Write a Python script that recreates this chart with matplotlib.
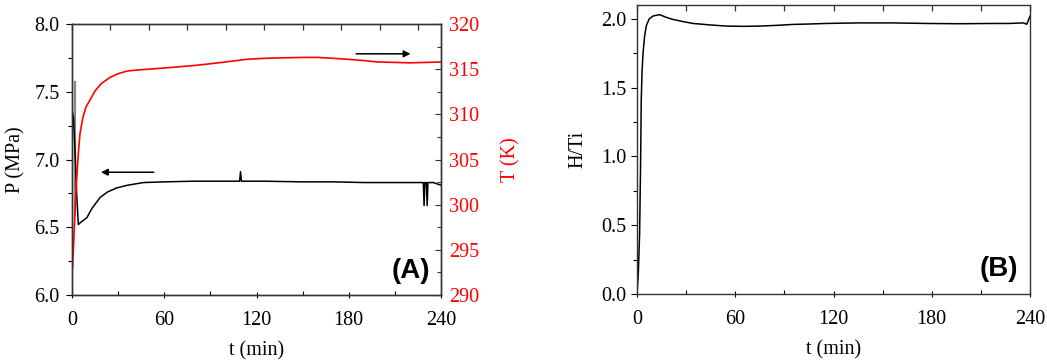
import matplotlib.pyplot as plt
from matplotlib.ticker import MultipleLocator

# panel A: temperature (right axis, K)
t_temp = [0.3, 1.0, 2.0, 3.0, 4.0, 5.2, 7.0, 9.0, 11.7, 15, 19, 24.8, 30, 36, 42.2,
          50, 57.4, 65, 79, 90, 100, 114, 125, 135, 150.8, 160, 170, 179, 190, 198.7,
          210, 220, 230, 240]
temp = [292.9, 295.5, 299.5, 302.8, 305.5, 307.9, 309.6, 310.8, 311.6, 312.6, 313.4, 314.1,
        314.5, 314.8, 314.9, 315.0, 315.1, 315.2, 315.4, 315.6, 315.8, 316.1, 316.2, 316.25,
        316.3, 316.3, 316.2, 316.1, 315.95, 315.8, 315.75, 315.7, 315.75, 315.8]

# panel A: pressure (left axis, MPa)
t_pres = [0.3, 1.0, 2.0, 3.0, 4.1, 6.0, 9.6, 13, 18.3, 23, 29, 36, 46.5, 60, 79, 95,
          109.0, 109.6, 110.2, 125, 150, 170, 190, 210, 228.5, 229.0, 229.5, 230.5, 231.0,
          231.5, 235, 240]
pres = [7.35, 7.30, 7.05, 6.75, 6.52, 6.54, 6.57, 6.64, 6.72, 6.76, 6.79, 6.81, 6.83, 6.835,
        6.84, 6.84, 6.84, 6.91, 6.84, 6.84, 6.835, 6.835, 6.83, 6.83, 6.83, 6.66, 6.83, 6.83,
        6.66, 6.83, 6.83, 6.81]

# panel B: H/Ti
t_h = [0, 0.8, 1.6, 2.2, 2.6, 3.1, 3.7, 4.6, 5.7, 7.5, 9.8, 13.8, 18, 22, 28, 34.2, 45,
       54.6, 65, 75, 85, 95.3, 105, 115.7, 125, 136, 146, 156.4, 166, 176.8, 187, 197.2,
       207, 217.6, 227, 236, 238, 240]
hti = [0.0, 0.15, 0.44, 0.95, 1.41, 1.62, 1.75, 1.87, 1.95, 2.0, 2.02, 2.03, 2.01, 1.995,
       1.98, 1.966, 1.955, 1.947, 1.945, 1.947, 1.952, 1.959, 1.962, 1.966, 1.968, 1.97,
       1.97, 1.97, 1.968, 1.966, 1.965, 1.964, 1.965, 1.966, 1.966, 1.97, 1.96, 2.02]

plt.rcParams['font.family'] = ['Liberation Serif', 'DejaVu Serif']
plt.rcParams['font.size'] = 14.5

fig = plt.figure(figsize=(10.47, 3.61), dpi=100)
posA = [0.0688, 0.1828, 0.3524, 0.7507]
posB = [0.6084, 0.1856, 0.3754, 0.8005]
axA = fig.add_axes(posA)
axT = axA.twinx()
axB = fig.add_axes(posB)


def style_bottom_left(ax, ypad):
    for s in ax.spines.values():
        s.set_linewidth(1.0)
        s.set_color('#333333')
    ax.xaxis.set_major_locator(MultipleLocator(60))
    ax.xaxis.set_minor_locator(MultipleLocator(30))
    ax.tick_params(axis='x', which='major', direction='inout', length=5, width=0.8,
                   top=False, pad=9)
    ax.tick_params(axis='x', which='minor', direction='in', length=3, width=0.8, top=False)
    ax.tick_params(axis='y', which='both', direction='out', width=0.8, right=False)
    ax.tick_params(axis='y', which='major', length=4, pad=ypad)
    ax.tick_params(axis='y', which='minor', length=3)
    ax.set_xlim(0, 240)
    ax.set_xlabel('t (min)', labelpad=8)


def top_ticks(pos, step):
    ax = fig.add_axes(pos, frameon=False)
    ax.set_xlim(0, 240)
    ax.xaxis.set_major_locator(MultipleLocator(step))
    ax.xaxis.tick_top()
    ax.tick_params(axis='x', direction='in', length=4, width=0.9, labeltop=False,
                   color='#333333')
    ax.set_yticks([])
    ax.patch.set_visible(False)
    return ax


# panel A
axA.plot(t_pres, pres, color='black', lw=1.1, zorder=3)
axA.plot([2, 2], [7.57, 6.6], color='#888888', lw=1.6)
style_bottom_left(axA, 5)
axA.set_ylim(6.0, 8.0)
axA.yaxis.set_major_locator(MultipleLocator(0.5))
axA.yaxis.set_minor_locator(MultipleLocator(0.25))
axA.set_ylabel('P (MPa)', labelpad=6)
axA.annotate('', xy=(17, 6.906), xytext=(55, 6.906),
             arrowprops=dict(arrowstyle='-|>', color='black', lw=1.1, mutation_scale=10))
axA.text(0.97, 0.04, '(A)', transform=axA.transAxes, ha='right', va='bottom',
         fontsize=20, fontweight='bold', family='Liberation Sans')

axT.plot(t_temp, temp, color='red', lw=1.2)
axT.set_ylim(290, 320)
axT.yaxis.set_major_locator(MultipleLocator(5))
axT.yaxis.set_minor_locator(MultipleLocator(2.5))
axT.tick_params(axis='y', which='both', direction='in', width=0.8,
                labelcolor='red', color='#333333')
axT.tick_params(axis='y', which='major', length=4, pad=6)
axT.tick_params(axis='y', which='minor', length=3)
axT.set_ylabel('T (K)', color='red', labelpad=16)
for s in axT.spines.values():
    s.set_linewidth(1.0)
    s.set_color('#333333')
axT.annotate('', xy=(222, 316.7), xytext=(183, 316.7),
             arrowprops=dict(arrowstyle='-|>', color='black', lw=1.1, mutation_scale=10))

top_ticks(posA, 25)

# panel B
axB.plot(t_h, hti, color='black', lw=1.1)
style_bottom_left(axB, 3.5)
axB.set_ylim(0, 2.1)
axB.yaxis.set_major_locator(MultipleLocator(0.5))
axB.yaxis.set_minor_locator(MultipleLocator(0.25))
axB.set_ylabel('H/Ti', labelpad=10)
axB.text(0.97, 0.04, '(B)', transform=axB.transAxes, ha='right', va='bottom',
         fontsize=20, fontweight='bold', family='Liberation Sans')
top_ticks(posB, 30)

fig.savefig('out.png', dpi=100)
